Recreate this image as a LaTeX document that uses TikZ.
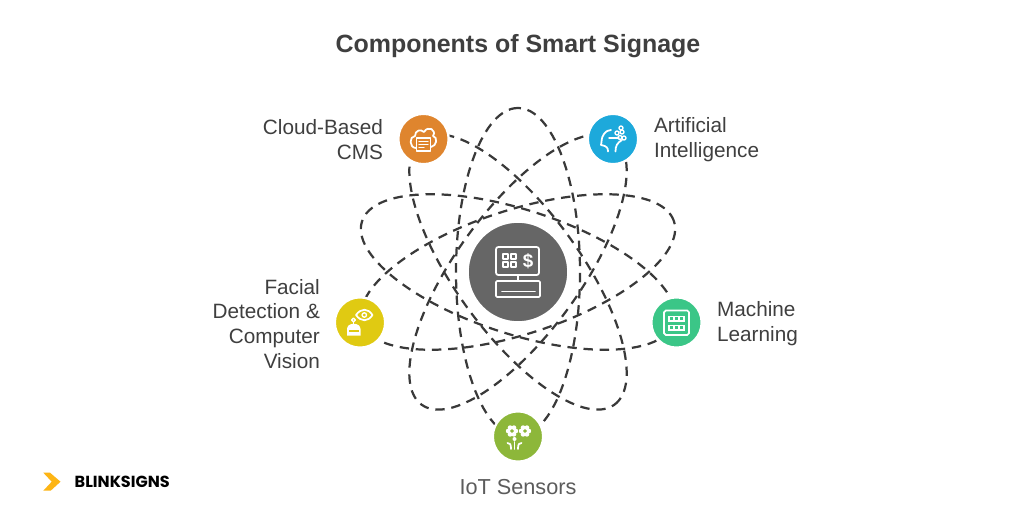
\documentclass[tikz,border=0pt]{standalone}
\usepackage{fontspec}
\setmainfont{Liberation Sans}
\newfontfamily\logofont{Poppins}
\definecolor{cloudcol}{HTML}{DF852E}
\definecolor{aicol}{HTML}{1DA9DB}
\definecolor{facecol}{HTML}{E0CA12}
\definecolor{mlcol}{HTML}{3BC687}
\definecolor{iotcol}{HTML}{8DB73A}
\definecolor{hubcol}{HTML}{666666}
\definecolor{inkcol}{HTML}{3F3F3F}
\definecolor{logocol}{HTML}{FDB515}
\tikzset{
  orbit/.style={draw=inkcol!90!black, line width=1.9pt, dash pattern=on 8pt off 5.8pt},
  badge/.style={circle, minimum size=43pt, inner sep=0pt, draw=white, line width=2pt},
  label/.style={text=inkcol, font=\fontsize{17.7}{21.2}\selectfont},
  icon/.style={draw=white, line width=1.5pt, line join=round, line cap=round},
  solid icon/.style={fill=white, draw=none}
}
\begin{document}
\begin{tikzpicture}[x=0.03cm, y=0.03cm]
\useasboundingbox[fill=white] (0, 0) rectangle (1024, -527);
\node [font=\bfseries\fontsize{21.3}{25}\selectfont, text=inkcol] (title) at (518, -46) {Components of Smart Signage};

% five orbits
\foreach \ang in {90, 54, 18, -18, -54}
  \draw [orbit, rotate around={\ang:(518, -272)}] (518, -272) ellipse [x radius=164, y radius=62];

\node [badge, fill=hubcol, minimum size=86pt] (hub) at (518, -272) {};
\node [badge, fill=cloudcol] (cloud) at (423.5, -139) {};
\node [badge, fill=aicol] (ai) at (613, -139) {};
\node [badge, fill=facecol] (face) at (360, -322.5) {};
\node [badge, fill=mlcol] (ml) at (676.5, -322.5) {};
\node [badge, fill=iotcol] (iot) at (518, -436.5) {};

\node [label, anchor=east, align=right] (cloudtext) at (387, -140) {Cloud-Based\\CMS};
\node [label, anchor=west, align=left] (aitext) at (650, -140) {Artificial\\Intelligence};
\node [label, anchor=east, align=right] (facetext) at (324, -324) {Facial\\Detection \&\\Computer\\Vision};
\node [label, anchor=west, align=left] (mltext) at (713, -324) {Machine\\Learning};
\node [label, text=inkcol!85, font=\fontsize{18.5}{22}\selectfont] (iottext) at (518, -487) {IoT Sensors};

% hub icon
\draw [icon, rounded corners=2pt] (496, -247) rectangle (539, -275);
\draw [icon] (518, -275) -- (518, -281);
\draw [icon, rounded corners=1pt] (496, -281) rectangle (540, -297);
\draw [icon] (502, -291.5) -- (535, -291.5);
\foreach \px in {503, 511}
  \foreach \py in {-254, -262}
    \draw [icon, line width=1.2pt] (\px, \py) rectangle ++(5, -5);
\node [text=white, font=\bfseries\fontsize{16}{16}\selectfont, inner sep=0pt] (dollar) at (528, -261) {\$};

% cloud icon
\draw [icon] (416, -148) .. controls (409, -148) and (409, -136) .. (415, -136)
  .. controls (415, -130) and (421, -129) .. (424, -132)
  .. controls (428, -125) and (437, -130) .. (433, -136)
  .. controls (438, -137) and (437, -146) .. (431, -147);
\draw [icon, fill=cloudcol] (416.5, -138) rectangle (430.5, -151);
\foreach \py/\pw in {-141.5/9, -144.5/9, -147.5/5}
  \draw [icon, line width=1pt] (419, \py) -- ++(\pw, 0);

% ai icon
\draw [icon] (608, -151.5) .. controls (608, -148) and (607, -146) .. (601, -145)
  .. controls (602, -141) and (601, -138) .. (604, -134)
  .. controls (606, -131) and (609, -130) .. (611, -130);
\draw [icon] (615.5, -151.5) .. controls (615.5, -146) and (617, -143) .. (622, -140);
\draw [icon, line width=1.2pt] (609, -138) -- (619, -138);
\foreach \px/\py in {617/-133, 622/-132, 620/-137.5, 624/-138, 621/-128}
  \draw [icon, line width=1.2pt] (\px, \py) circle [radius=2];

% face icon
\draw [icon] (356, -315) .. controls (361, -308) and (368, -308) .. (372.5, -315)
  .. controls (368, -322) and (361, -322) .. (356, -315) -- cycle;
\draw [icon, line width=1.2pt] (364.3, -315) circle [radius=2.2];
\draw [icon, line width=1.2pt] (353.5, -320) circle [radius=1.8];
\draw [icon] (353.5, -322) -- (353.5, -324);
\fill [solid icon] (347, -335.5) -- (347, -329) .. controls (347, -322) and (360.5, -322) .. (360.5, -329) -- (360.5, -335.5) -- cycle;
\draw [facecol, line width=1pt] (349, -331) -- (358.5, -331);

% ml icon
\draw [icon, rounded corners=1.5pt] (664, -310.5) rectangle (689, -335);
\foreach \py in {-315.5, -324.5} {
  \fill [solid icon] (668, \py) rectangle (685, \py - 6);
  \foreach \px in {671.5, 676.5, 681.5}
    \fill [mlcol] (\px - 1.2, \py - 1.8) rectangle (\px + 1.2, \py - 4.2);
}

% iot icon
\foreach \px in {512, 525} {
  \foreach \ang in {0, 60, ..., 300}
    \fill [solid icon] (\px, -431) ++(\ang:3.8) circle [radius=2.4];
  \fill [iotcol] (\px, -431) circle [radius=1.6];
}
\draw [icon] (514.5, -442) -- (514.5, -449);
\fill [solid icon] (514.5, -439) circle [radius=2];
\draw [icon] (511, -449) .. controls (511, -444) and (510, -443) .. (507.5, -443);
\draw [icon] (518, -449) .. controls (518, -444) and (519, -443) .. (521.5, -443);

% logo
\fill [logocol] (43.3, -472.7) -- (50, -472.7) -- (60.5, -481.7) -- (50.7, -490.7) -- (43.3, -490.7) -- (51.7, -481.7) -- cycle;
\node [anchor=west, inner sep=0pt, font=\logofont\bfseries\fontsize{13.7}{15}\selectfont, text=black] (logotext) at (74.5, -482) {BLINKSIGNS};
\end{tikzpicture}
\end{document}
